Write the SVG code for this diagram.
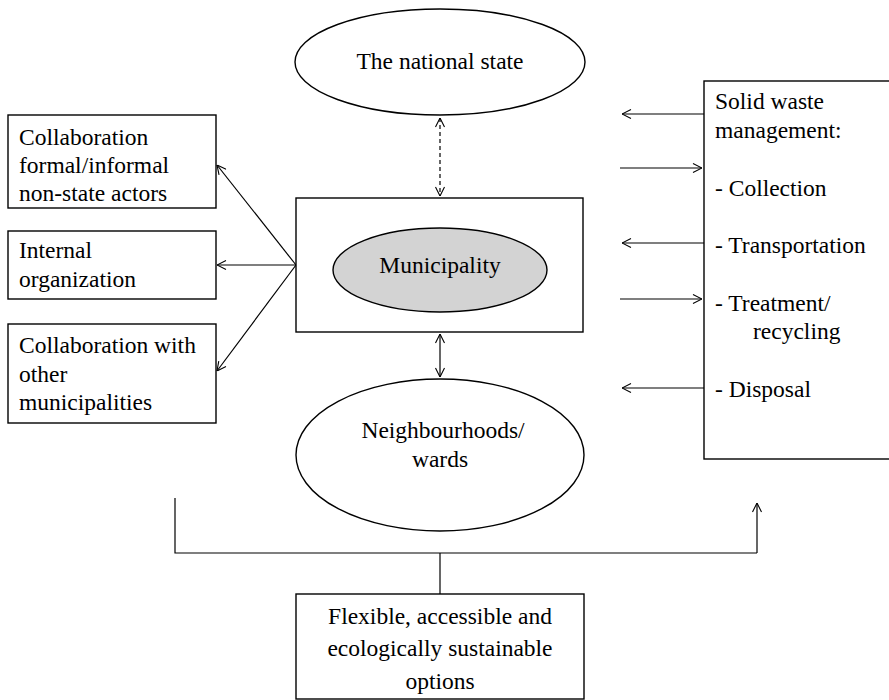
<svg xmlns="http://www.w3.org/2000/svg" width="889" height="700" viewBox="0 0 889 700">
<defs>
<marker id="arr" viewBox="0 0 10 10" refX="10" refY="5" markerWidth="10" markerHeight="10" markerUnits="userSpaceOnUse" orient="auto-start-reverse">
<path d="M1,0.5 L10,5 L1,9.5" fill="none" stroke="#000" stroke-width="1.1"/>
</marker>
<style>
text{font-family:"Liberation Serif","Times New Roman",serif;font-size:23.5px;fill:#000}
.c{text-anchor:middle}
.box{fill:#fff;stroke:#000;stroke-width:1.4}
.ln{fill:none;stroke:#000;stroke-width:1.2}
.ar{fill:none;stroke:#000;stroke-width:1.2;marker-end:url(#arr)}
.dar{fill:none;stroke:#000;stroke-width:1.2;marker-start:url(#arr);marker-end:url(#arr)}
</style>
</defs>
<rect width="889" height="700" fill="#fff"/>

<g id="connectors">
<path class="dar" d="M440,118 L440,196" stroke-dasharray="4,3"/>
<path class="dar" d="M440,334 L440,377"/>
<path class="ar" d="M296,265 L217,165"/>
<path class="ar" d="M296,265 L217,265"/>
<path class="ar" d="M296,265 L217,371"/>
<path class="ar" d="M704,114 L622,114"/>
<path class="ar" d="M620,168 L702,168"/>
<path class="ar" d="M704,243 L622,243"/>
<path class="ar" d="M620,299 L702,299"/>
<path class="ar" d="M704,388 L622,388"/>
<path class="ln" d="M175,498 L175,553 L757,553"/>
<path class="ar" d="M757,553 L757,503"/>
<path class="ln" d="M440,553 L440,594"/>
</g>

<g id="national-state">
<ellipse class="box" cx="440" cy="62" rx="145" ry="53"/>
<text class="c" x="440" y="69">The national state</text>
</g>

<g id="municipality-box">
<rect class="box" x="296" y="198" width="287" height="134"/>
</g>
<g id="municipality">
<ellipse cx="440" cy="270" rx="107" ry="42" fill="#d3d3d3" stroke="#000" stroke-width="1.4"/>
<text class="c" x="440" y="273">Municipality</text>
</g>

<g id="neighbourhoods">
<ellipse class="box" cx="440" cy="455" rx="144" ry="76"/>
<text class="c" x="443" y="438">Neighbourhoods/</text>
<text class="c" x="440" y="467">wards</text>
</g>

<g id="collab-nonstate">
<rect class="box" x="8" y="115" width="208" height="93"/>
<text x="19" y="145">Collaboration</text>
<text x="19" y="173">formal/informal</text>
<text x="19" y="201">non-state actors</text>
</g>

<g id="internal-org">
<rect class="box" x="8" y="231" width="208" height="68"/>
<text x="19" y="258">Internal</text>
<text x="19" y="287">organization</text>
</g>

<g id="collab-municipalities">
<rect class="box" x="8" y="324" width="208" height="99"/>
<text x="19" y="353">Collaboration with</text>
<text x="19" y="382">other</text>
<text x="19" y="410">municipalities</text>
</g>

<g id="solid-waste">
<rect class="box" x="704" y="81" width="195" height="378"/>
<text x="715" y="109">Solid waste</text>
<text x="715" y="138">management:</text>
<text x="715" y="196">- Collection</text>
<text x="715" y="253">- Transportation</text>
<text x="715" y="311">- Treatment/</text>
<text x="753" y="339">recycling</text>
<text x="715" y="397">- Disposal</text>
</g>

<g id="options">
<rect class="box" x="296" y="594" width="288" height="105"/>
<text class="c" x="440" y="624">Flexible, accessible and</text>
<text class="c" x="440" y="656">ecologically sustainable</text>
<text class="c" x="440" y="689">options</text>
</g>
</svg>
